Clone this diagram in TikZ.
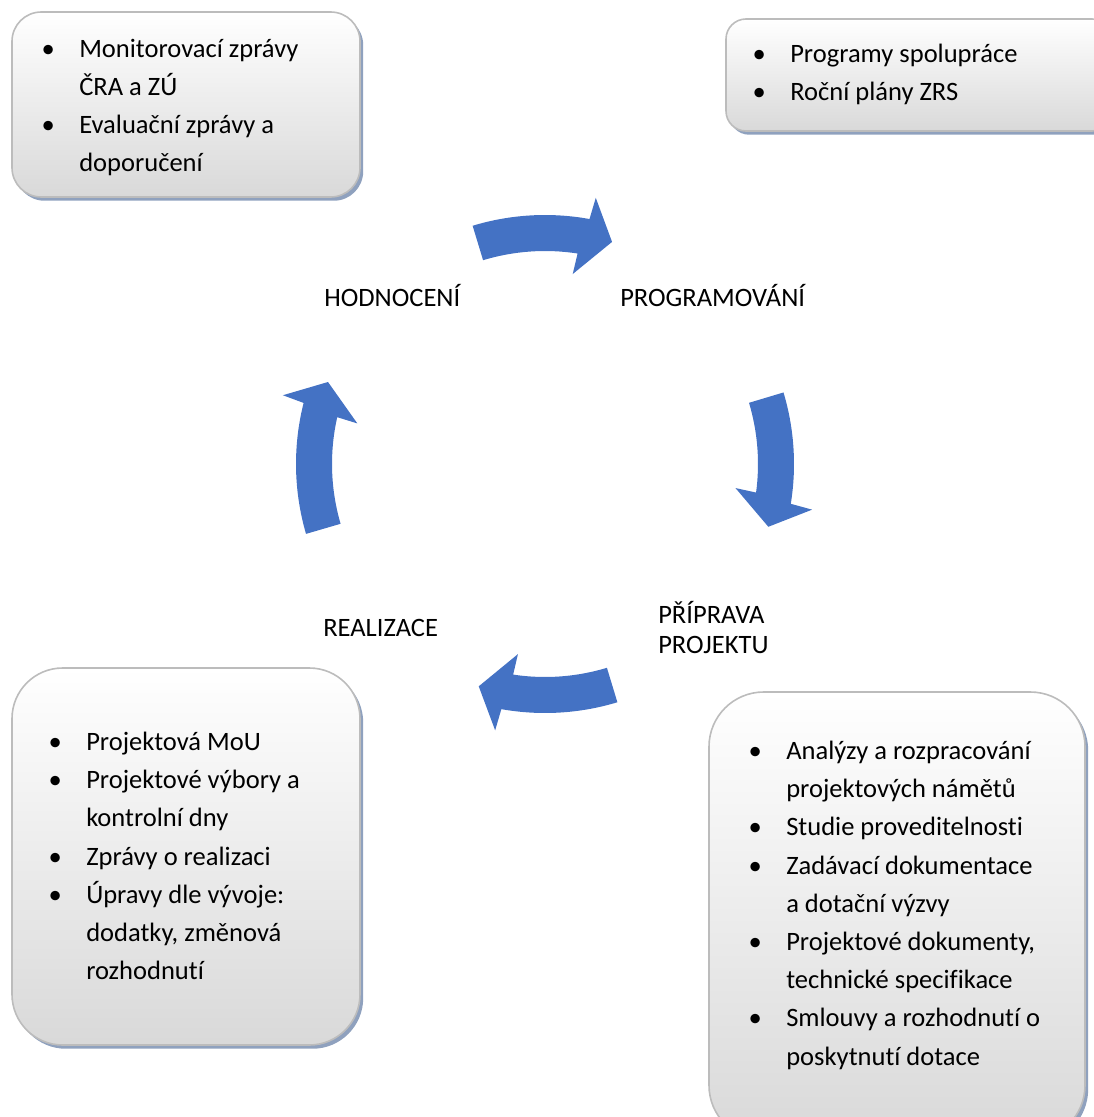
\documentclass[tikz,border=0pt]{standalone}
\usepackage{fontspec}
\setmainfont{Carlito}[Ligatures={NoCommon}]
\usetikzlibrary{fit,shadows}
\definecolor{arrowblue}{HTML}{4472C4}
\definecolor{shadowblue}{RGB}{143,161,190}
\definecolor{boxborder}{RGB}{188,188,188}
\newcommand\bu{\llap{\makebox[23.25pt][l]{\makebox[0pt][c]{\textbullet}}}}
\newcommand\cyarrow[2]{%
  \fill[arrowfill] ([shift={(C)}]#1:249) arc[start angle=#1, end angle=#2+6.5, radius=249]
    -- ([shift={(C)}]{#2+6}:271) -- ([shift={(C)}]#2:232) -- ([shift={(C)}]{#2+8.5}:192)
    -- ([shift={(C)}]{#2+8}:213) arc[start angle=#2+8, end angle=#1, radius=213] -- cycle;}
\tikzset{
  cbox/.style={draw=boxborder, line width=1.2pt, top color=white, bottom color=black!15,
    inner sep=0pt, drop shadow={shadow xshift=2.4pt, shadow yshift=-2.8pt, fill=shadowblue, opacity=1}},
  listtext/.style={anchor=base west, inner sep=0pt, font=\fontsize{19.9}{28.65}\selectfont},
  lbl/.style={anchor=base west, inner sep=0pt, font=\fontsize{19.9}{22.5}\selectfont},
  arrowfill/.style={fill=arrowblue},
}
\begin{document}
\begin{tikzpicture}[x=0.75pt,y=0.75pt]
\useasboundingbox (0,0) rectangle (1094,-1117);
\clip (0,0) rectangle (1094,-1117);
\coordinate (C) at (545,-464);

% boxes
\node[cbox, rounded corners=22pt, fit={(12,-12) (360,-197)}] (b1) {};
\node[cbox, rounded corners=15pt, fit={(726,-19) (1112,-131)}] (b2) {};
\node[cbox, rounded corners=38pt, fit={(12,-668) (360,-1045)}] (b3) {};
\node[cbox, rounded corners=41pt, fit={(709,-692) (1085,-1140)}] (b4) {};

% box texts
\node[listtext] (t1) at (79,-57) {\begin{tabular}[t]{@{}l@{}}
\bu Monitorovací zprávy\\ ČRA a ZÚ\\ \bu Evaluační zprávy a\\ doporučení\end{tabular}};
\node[listtext] (t2) at (790,-62.5) {\begin{tabular}[t]{@{}l@{}}
\bu Programy spolupráce\\ \bu Roční plány ZRS\end{tabular}};
\node[listtext] (t3) at (86,-750.5) {\begin{tabular}[t]{@{}l@{}}
\bu Projektová MoU\\ \bu Projektové výbory a\\ kontrolní dny\\ \bu Zprávy o realizaci\\
\bu Úpravy dle vývoje:\\ dodatky, změnová\\ rozhodnutí\end{tabular}};
\node[listtext] (t4) at (786,-759.5) {\begin{tabular}[t]{@{}l@{}}
\bu Analýzy a rozpracování\\ projektových námětů\\ \bu Studie proveditelnosti\\
\bu Zadávací dokumentace\\ a dotační výzvy\\ \bu Projektové dokumenty,\\
technické specifikace\\ \bu Smlouvy a rozhodnutí o\\ poskytnutí dotace\end{tabular}};

% stage labels
\node[lbl] (hod) at (324,-306.5) {HODNOCENÍ};
\node[lbl] (prog) at (620,-306.5) {PROGRAMOVÁNÍ};
\node[lbl] (prip) at (658,-623) {\begin{tabular}[t]{@{}l@{}}PŘÍPRAVA\\ PROJEKTU\end{tabular}};
\node[lbl] (real) at (323,-636.7) {REALIZACE};

% cycle arrows
\cyarrow{106.9}{73.2}
\cyarrow{16.7}{-15.7}
\cyarrow{-73.1}{-106.6}
\cyarrow{196.3}{159.3}
\end{tikzpicture}
\end{document}
